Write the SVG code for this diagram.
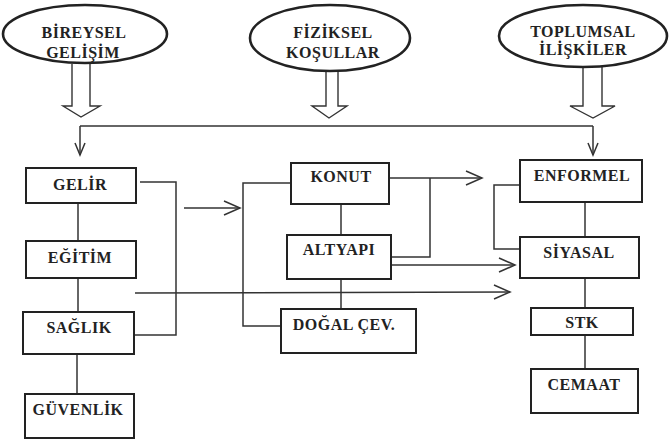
<svg xmlns="http://www.w3.org/2000/svg" width="670" height="441" viewBox="0 0 670 441">
<defs>
<style>
.ell{fill:#fff;stroke:#222;stroke-width:2.6}
.box{fill:#fff;stroke:#222;stroke-width:2}
.hol{fill:none;stroke:#333;stroke-width:1.4;stroke-linejoin:miter}
.ln{fill:none;stroke:#333;stroke-width:1.5}
.t{font-family:"Liberation Serif","Times New Roman",serif;font-size:16px;font-weight:bold;fill:#222;text-anchor:middle;letter-spacing:0.5px}
</style>
<marker id="v" markerUnits="userSpaceOnUse" markerWidth="20" markerHeight="18" refX="0" refY="0" viewBox="-17 -9 20 18" orient="auto" overflow="visible">
<path d="M-16,-7 L0,0 L-16,7" fill="none" stroke="#333" stroke-width="1.5"/>
</marker>
<marker id="vs" markerUnits="userSpaceOnUse" markerWidth="16" markerHeight="14" refX="0" refY="0" viewBox="-13 -7 16 14" orient="auto" overflow="visible">
<path d="M-12,-5 L0,0 L-12,5" fill="none" stroke="#333" stroke-width="1.5"/>
</marker>
</defs>
<rect width="670" height="441" fill="#fff"/>

<g id="connectors">
<polyline class="hol" points="72,64 72,106 63,106 81,117 100,106 90,106 90,64"/>
<polyline class="hol" points="326,72 326,106 312,106 329,118 347,106 338,106 338,72"/>
<polyline class="hol" points="583,67 583,106 570,106 593,118 615,106 602,106 602,67"/>
<line class="ln" x1="80" y1="126" x2="593" y2="126"/>
<line class="ln" x1="80" y1="126" x2="80" y2="155" marker-end="url(#vs)"/>
<line class="ln" x1="593" y1="126" x2="593" y2="155" marker-end="url(#vs)"/>
<line class="ln" x1="78" y1="203" x2="78" y2="241"/>
<line class="ln" x1="78" y1="278" x2="78" y2="312"/>
<line class="ln" x1="77" y1="354" x2="77" y2="394"/>
<polyline class="ln" points="140,182 176,182 176,335 134,335"/>
<line class="ln" x1="184" y1="208" x2="240" y2="208" marker-end="url(#v)"/>
<line class="ln" x1="135" y1="293" x2="510" y2="292" marker-end="url(#v)"/>
<line class="ln" x1="341" y1="204" x2="341" y2="235"/>
<line class="ln" x1="341" y1="279" x2="341" y2="309"/>
<polyline class="ln" points="291,183 243,183 243,326 281,326"/>
<line class="ln" x1="389" y1="178" x2="482" y2="178" marker-end="url(#v)"/>
<polyline class="ln" points="391,257 430,257 430,178"/>
<line class="ln" x1="391" y1="265" x2="515" y2="265" marker-end="url(#v)"/>
<polyline class="ln" points="520,185 494,185 494,249 520,249"/>
<line class="ln" x1="585" y1="202" x2="585" y2="237"/>
<line class="ln" x1="585" y1="278" x2="585" y2="308"/>
<line class="ln" x1="585" y1="335" x2="585" y2="369"/>
</g>

<g id="n-bireysel">
<ellipse class="ell" cx="85" cy="34" rx="82" ry="29"/>
<text class="t" x="84" y="38">BİREYSEL</text>
<text class="t" x="83" y="58">GELİŞİM</text>
</g>
<g id="n-fiziksel">
<ellipse class="ell" cx="330" cy="38" rx="80" ry="33"/>
<text class="t" x="333" y="38">FİZİKSEL</text>
<text class="t" x="333" y="58">KOŞULLAR</text>
</g>
<g id="n-toplumsal">
<ellipse class="ell" cx="583" cy="36" rx="84" ry="31"/>
<text class="t" x="583" y="37">TOPLUMSAL</text>
<text class="t" x="583" y="55">İLİŞKİLER</text>
</g>

<g id="n-gelir"><rect class="box" x="26" y="168" width="110" height="35"/><text class="t" x="80" y="190">GELİR</text></g>
<g id="n-egitim"><rect class="box" x="26" y="241" width="110" height="37"/><text class="t" x="80" y="263">EĞİTİM</text></g>
<g id="n-saglik"><rect class="box" x="23" y="312" width="111" height="42"/><text class="t" x="79" y="333">SAĞLIK</text></g>
<g id="n-guvenlik"><rect class="box" x="25" y="394" width="109" height="44"/><text class="t" x="78" y="415">GÜVENLİK</text></g>

<g id="n-konut"><rect class="box" x="291" y="163" width="98" height="41"/><text class="t" x="341" y="182">KONUT</text></g>
<g id="n-altyapi"><rect class="box" x="287" y="235" width="104" height="44"/><text class="t" x="339" y="255">ALTYAPI</text></g>
<g id="n-dogal"><rect class="box" x="281" y="309" width="135" height="44"/><text class="t" x="344" y="330">DOĞAL ÇEV.</text></g>

<g id="n-enformel"><rect class="box" x="520" y="160" width="122" height="42"/><text class="t" x="582" y="181">ENFORMEL</text></g>
<g id="n-siyasal"><rect class="box" x="520" y="237" width="119" height="41"/><text class="t" x="579" y="258">SİYASAL</text></g>
<g id="n-stk"><rect class="box" x="531" y="308" width="102" height="27"/><text class="t" x="582" y="328">STK</text></g>
<g id="n-cemaat"><rect class="box" x="531" y="369" width="107" height="44"/><text class="t" x="584" y="390">CEMAAT</text></g>
</svg>
